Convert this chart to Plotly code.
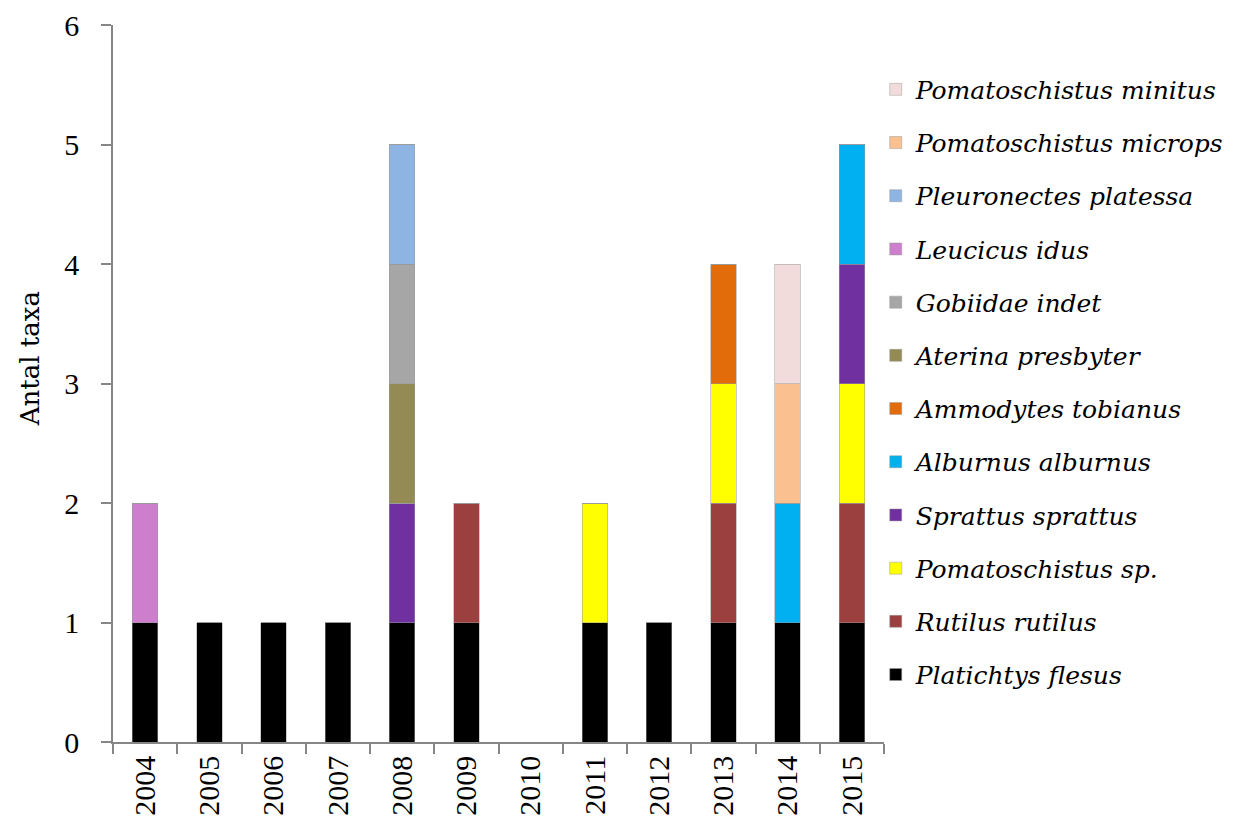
import plotly.graph_objects as go

years = ["2004", "2005", "2006", "2007", "2008", "2009", "2010", "2011", "2012", "2013", "2014", "2015"]

species = [
    "Platichtys flesus", "Rutilus rutilus", "Pomatoschistus sp.", "Sprattus sprattus",
    "Alburnus alburnus", "Ammodytes tobianus", "Aterina presbyter", "Gobiidae indet",
    "Leucicus idus", "Pleuronectes platessa", "Pomatoschistus microps", "Pomatoschistus minitus",
]

platichtys = [1, 1, 1, 1, 1, 1, 0, 1, 1, 1, 1, 1]
rutilus = [0, 0, 0, 0, 0, 1, 0, 0, 0, 1, 0, 1]
pomatoschistus_sp = [0, 0, 0, 0, 0, 0, 0, 1, 0, 1, 0, 1]
sprattus = [0, 0, 0, 0, 1, 0, 0, 0, 0, 0, 0, 1]
alburnus = [0, 0, 0, 0, 0, 0, 0, 0, 0, 0, 1, 1]
ammodytes = [0, 0, 0, 0, 0, 0, 0, 0, 0, 1, 0, 0]
aterina = [0, 0, 0, 0, 1, 0, 0, 0, 0, 0, 0, 0]
gobiidae = [0, 0, 0, 0, 1, 0, 0, 0, 0, 0, 0, 0]
leucicus = [1, 0, 0, 0, 0, 0, 0, 0, 0, 0, 0, 0]
pleuronectes = [0, 0, 0, 0, 1, 0, 0, 0, 0, 0, 0, 0]
microps = [0, 0, 0, 0, 0, 0, 0, 0, 0, 0, 1, 0]
minitus = [0, 0, 0, 0, 0, 0, 0, 0, 0, 0, 1, 0]

values = [platichtys, rutilus, pomatoschistus_sp, sprattus, alburnus, ammodytes,
          aterina, gobiidae, leucicus, pleuronectes, microps, minitus]

colors = ["#000000", "#9B403E", "#FFFF00", "#7030A0", "#00B0F0", "#E36C0A",
          "#948A54", "#A6A6A6", "#CD7FCD", "#8EB4E3", "#FAC090", "#F2DCDB"]

fig = go.Figure()
for i, (name, vals, col) in enumerate(zip(species, values, colors)):
    fig.add_trace(go.Bar(
        x=years, y=vals, name=name, legendgroup=f"g{i:02d}", legendrank=1000 - i,
        marker=dict(color=col, line=dict(color="#9a9a9a", width=0.5)),
        width=0.4,
    ))

fig.update_layout(
    barmode="stack",
    width=1232, height=821,
    margin=dict(l=105, r=355, t=17, b=87),
    paper_bgcolor="white", plot_bgcolor="white",
    font=dict(family="Liberation Serif", size=26, color="black"),
    legend=dict(
        x=0.988, xanchor="left", y=0.942, yanchor="top",
        traceorder="grouped", tracegroupgap=17.7,
        font=dict(family="DejaVu Serif", size=25, style="italic"),
        itemwidth=30, borderwidth=0,
    ),
    showlegend=True,
    annotations=[dict(
        text="Antal taxa", xref="paper", yref="paper",
        x=-0.1075, y=0.534, xanchor="center", yanchor="middle",
        textangle=-90, showarrow=False,
        font=dict(family="DejaVu Serif", size=26, color="black"),
    )],
)
fig.update_xaxes(
    type="category", showline=True, linecolor="#868686", linewidth=1.5,
    ticks="outside", tickson="boundaries", ticklen=10, tickcolor="#868686", tickwidth=1.5,
    tickangle=-90, tickfont=dict(family="Liberation Serif", size=30),
    showgrid=False, zeroline=False, automargin=False,
)
fig.update_yaxes(
    range=[0, 6], dtick=1, showline=True, linecolor="#868686", linewidth=1.5,
    ticks="outside", ticklen=10, tickcolor="#868686", tickwidth=1.5,
    tickfont=dict(family="Liberation Serif", size=30), ticklabelstandoff=16,
    showgrid=False, zeroline=False, automargin=False,
)

fig.write_html("out.html")
